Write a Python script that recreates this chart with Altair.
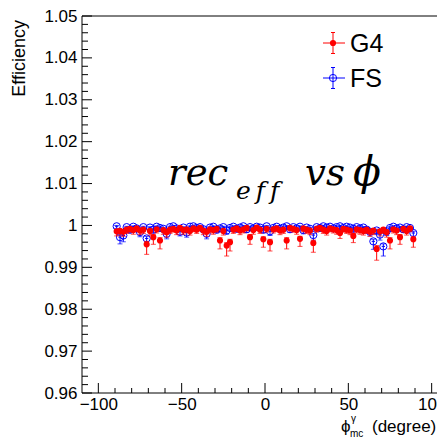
import altair as alt
import pandas as pd

# ---- data ----
# bin centres (2-degree bins from -90 to 90)
x_centers = list(range(-89, 90, 2))

g4_eff = [0.9986, 0.9987, 0.9985, 0.9990, 0.9992, 0.9989, 0.9993, 0.9988, 0.9990, 0.9955,
          0.9987, 0.9972, 0.9991, 0.9964, 0.9989, 0.9984, 0.9990, 0.9992, 0.9988, 0.9994,
          0.9989, 0.9991, 0.9987, 0.9993, 0.9990, 0.9994, 0.9988, 0.9985, 0.9991, 0.9989,
          0.9992, 0.9964, 0.9987, 0.9952, 0.9960, 0.9990, 0.9993, 0.9988, 0.9991, 0.9994,
          0.9972, 0.9989, 0.9995, 0.9990, 0.9967, 0.9992, 0.9960, 0.9991, 0.9993, 0.9988,
          0.9990, 0.9964, 0.9994, 0.9992, 0.9989, 0.9968, 0.9993, 0.9990, 0.9988, 0.9958,
          0.9992, 0.9994, 0.9990, 0.9987, 0.9993, 0.9991, 0.9989, 0.9982, 0.9992, 0.9990,
          0.9988, 0.9975, 0.9991, 0.9989, 0.9987, 0.9990, 0.9985, 0.9988, 0.9944, 0.9986,
          0.9990, 0.9984, 0.9964, 0.9991, 0.9988, 0.9972, 0.9992, 0.9987, 0.9993, 0.9967]
# errors in units of 1e-4
g4_err_lo = [11, 10, 11, 9, 8, 10, 8, 10, 9, 24,
             10, 17, 9, 20, 10, 12, 9, 8, 10, 7,
             10, 9, 10, 8, 9, 7, 10, 11, 9, 10,
             8, 20, 10, 25, 21, 9, 8, 10, 9, 7,
             17, 10, 7, 9, 19, 8, 21, 9, 8, 10,
             9, 20, 7, 8, 10, 18, 8, 9, 10, 22,
             8, 7, 9, 10, 8, 9, 10, 13, 8, 9,
             10, 16, 9, 10, 10, 9, 11, 10, 27, 11,
             9, 12, 20, 9, 10, 17, 8, 10, 8, 19]
g4_err_hi = [4, 4, 4, 4, 3, 4, 3, 4, 4, 7,
             4, 6, 4, 7, 4, 5, 4, 3, 4, 3,
             4, 4, 4, 3, 4, 3, 4, 4, 4, 4,
             3, 7, 4, 7, 7, 4, 3, 4, 4, 3,
             6, 4, 3, 4, 6, 3, 7, 4, 3, 4,
             4, 7, 3, 3, 4, 6, 3, 4, 4, 7,
             3, 3, 4, 4, 3, 4, 4, 5, 3, 4,
             4, 6, 4, 4, 4, 4, 4, 4, 8, 4,
             4, 5, 7, 4, 4, 6, 3, 4, 3, 6]

fs_eff = [0.9998, 0.9972, 0.9976, 0.9996, 0.9990, 0.9997, 0.9993, 0.9984, 0.9996, 0.9969,
          0.9995, 0.9990, 0.9997, 0.9994, 0.9992, 0.9980, 0.9996, 0.9998, 0.9993, 0.9985,
          0.9995, 0.9983, 0.9997, 0.9998, 0.9994, 0.9996, 0.9991, 0.9980, 0.9995, 0.9997,
          0.9990, 0.9993, 0.9996, 0.9988, 0.9994, 0.9997, 0.9992, 0.9995, 0.9998, 0.9991,
          0.9996, 0.9993, 0.9997, 0.9995, 0.9990, 0.9998, 0.9986, 0.9994, 0.9997, 0.9992,
          0.9995, 0.9998, 0.9991, 0.9996, 0.9993, 0.9997, 0.9989, 0.9995, 0.9992, 0.9977,
          0.9996, 0.9994, 0.9998, 0.9995, 0.9997, 0.9993, 0.9996, 0.9998, 0.9994, 0.9997,
          0.9995, 0.9992, 0.9996, 0.9993, 0.9995, 0.9990, 0.9985, 0.9962, 0.9988, 0.9978,
          0.9950, 0.9986, 0.9994, 0.9997, 0.9993, 0.9995, 0.9991, 0.9996, 0.9994, 0.9982]
fs_err_lo = [5, 16, 15, 6, 8, 5, 7, 11, 6, 17,
             6, 8, 5, 7, 7, 12, 6, 5, 7, 10,
             6, 11, 5, 5, 7, 6, 8, 12, 6, 5,
             8, 7, 6, 9, 7, 5, 7, 6, 5, 8,
             6, 7, 5, 6, 8, 5, 10, 7, 5, 7,
             6, 5, 8, 6, 7, 5, 9, 6, 7, 14,
             6, 7, 5, 6, 5, 7, 6, 5, 7, 5,
             6, 7, 6, 7, 6, 8, 10, 19, 9, 13,
             23, 10, 7, 5, 7, 6, 8, 6, 7, 11]
fs_err_hi = [2, 5, 5, 2, 3, 2, 3, 4, 2, 5,
             2, 3, 2, 3, 3, 4, 2, 2, 3, 4,
             2, 4, 2, 2, 3, 2, 3, 4, 2, 2,
             3, 3, 2, 3, 3, 2, 3, 2, 2, 3,
             2, 3, 2, 2, 3, 2, 4, 3, 2, 3,
             2, 2, 3, 2, 3, 2, 3, 2, 3, 4,
             2, 3, 2, 2, 2, 3, 2, 2, 3, 2,
             2, 3, 2, 3, 2, 3, 4, 5, 3, 4,
             6, 4, 3, 2, 3, 2, 3, 2, 3, 4]

# axis ticks
x_major = [-100, -50, 0, 50, 100]
x_minor = [-90, -80, -70, -60, -40, -30, -20, -10, 10, 20, 30, 40, 60, 70, 80, 90]
y_major = [0.96, 0.97, 0.98, 0.99, 1.00, 1.01, 1.02, 1.03, 1.04, 1.05]
y_minor = [0.962, 0.964, 0.966, 0.968, 0.972, 0.974, 0.976, 0.978,
           0.982, 0.984, 0.986, 0.988, 0.992, 0.994, 0.996, 0.998,
           1.002, 1.004, 1.006, 1.008, 1.012, 1.014, 1.016, 1.018,
           1.022, 1.024, 1.026, 1.028, 1.032, 1.034, 1.036, 1.038,
           1.042, 1.044, 1.046, 1.048]

W, H = 355, 377
X_DOMAIN = [-109.8, 103.2]
Y_DOMAIN = [0.96, 1.05]
RED, BLUE = "#ff0000", "#0000ff"
SANS = "Liberation Sans"


def series_frame(eff, lo, hi):
    df = pd.DataFrame({"x": x_centers, "eff": eff,
                       "elo": [v * 1e-4 for v in lo], "ehi": [v * 1e-4 for v in hi]})
    df["lo"] = df["eff"] - df["elo"]
    df["hi"] = (df["eff"] + df["ehi"]).clip(upper=1.0)
    df["xl"] = df["x"] - 1
    df["xr"] = df["x"] + 1
    return df


g4 = series_frame(g4_eff, g4_err_lo, g4_err_hi)
fs = series_frame(fs_eff, fs_err_lo, fs_err_hi)

xs = alt.Scale(domain=X_DOMAIN, nice=False, zero=False)
ys = alt.Scale(domain=Y_DOMAIN, nice=False, zero=False)
XAX = alt.Axis(values=x_major, ticks=False, domain=False, grid=False,
               labelFont=SANS, labelFontSize=17, labelColor="black",
               labelPadding=3, title=None, labelFlush=False)
YAX = alt.Axis(values=y_major, ticks=False, domain=False, grid=False,
               labelFont=SANS, labelFontSize=17, labelColor="black",
               labelPadding=5, title=None, labelFlush=False,
               labelExpr="format(datum.value, '.2~f')")


def X(f):
    return alt.X(f, scale=xs, axis=XAX)


def Y(f):
    return alt.Y(f, scale=ys, axis=YAX)


def series_layers(df, color, filled):
    base = alt.Chart(df)
    vbar = base.mark_rule(color=color, strokeWidth=1).encode(x=X("x:Q"), y=Y("lo:Q"), y2="hi:Q")
    hbar = base.mark_rule(color=color, strokeWidth=1).encode(x=X("xl:Q"), x2="xr:Q", y=Y("eff:Q"))
    cap_lo = base.mark_tick(color=color, orient="horizontal", size=5, thickness=1).encode(
        x=X("x:Q"), y=Y("lo:Q"))
    cap_hi = base.mark_tick(color=color, orient="horizontal", size=5, thickness=1).encode(
        x=X("x:Q"), y=Y("hi:Q"))
    if filled:
        pts = base.mark_circle(color=color, size=38, opacity=1)
    else:
        pts = base.mark_point(color=color, shape="circle", filled=False, size=52,
                              strokeWidth=1, opacity=1)
    pts = pts.encode(x=X("x:Q"), y=Y("eff:Q"))
    return [vbar, hbar, cap_lo, cap_hi, pts]


def yticks(vals, length):
    return alt.Chart(pd.DataFrame({"v": vals})).mark_rule(color="black", strokeWidth=1).encode(
        y=Y("v:Q"), x=alt.value(0), x2=alt.value(length))


def xticks(vals, length):
    return alt.Chart(pd.DataFrame({"v": vals})).mark_rule(color="black", strokeWidth=1).encode(
        x=X("v:Q"), y=alt.value(H), y2=alt.value(H - length))


one = pd.DataFrame({"a": [0]})


def txt(s, x, y, **kw):
    return alt.Chart(one).mark_text(**kw).encode(x=alt.value(x), y=alt.value(y), text=alt.value(s))


def prule(x, y, x2=None, y2=None, color="black"):
    enc = {"x": alt.value(x), "y": alt.value(y)}
    if x2 is not None:
        enc["x2"] = alt.value(x2)
    if y2 is not None:
        enc["y2"] = alt.value(y2)
    return alt.Chart(one).mark_rule(color=color, strokeWidth=1).encode(**enc)


def legend_item(cy, color, filled, label):
    items = [prule(241, cy, x2=263, color=color),
             prule(251, cy - 10.5, y2=cy + 10.5, color=color),
             prule(249, cy - 10.5, x2=253, color=color),
             prule(249, cy + 10.5, x2=253, color=color)]
    if filled:
        m = alt.Chart(one).mark_circle(color=color, size=38, opacity=1)
    else:
        m = alt.Chart(one).mark_point(color=color, shape="circle", filled=False, size=52,
                                      strokeWidth=1, opacity=1)
    items.append(m.encode(x=alt.value(251), y=alt.value(cy)))
    items.append(txt(label, 268, cy + 1, font=SANS, fontSize=25, align="left",
                     baseline="middle", color="black"))
    return items


serif = dict(font="DejaVu Serif", fontStyle="italic", color="black", align="left",
             baseline="alphabetic")
sans = dict(font=SANS, color="black", align="left", baseline="alphabetic")

layers = [prule(0, 0, y2=H), prule(0, 0, x2=W + 10), prule(0, H, x2=W + 10),
          yticks(y_major, 10), yticks(y_minor, 6),
          xticks(x_major, 10), xticks(x_minor, 5)]
layers += series_layers(fs, BLUE, False)
layers += series_layers(g4, RED, True)
layers += legend_item(27, RED, True, "G4")
layers += legend_item(62, BLUE, False, "FS")
layers += [
    txt("rec", 86, 169, fontSize=37, **serif),
    txt("e\u2009f\u2009f", 154, 183, fontSize=25, **serif),
    txt("vs", 223, 169, fontSize=37, **serif),
    txt("\u03d5", 271, 169, fontSize=41, **serif),
    txt("Efficiency", -62, 4, font=SANS, fontSize=18, angle=270, align="right",
        baseline="middle", color="black"),
    txt("\u03d5", 259, 416, fontSize=17, **sans),
    txt("\u03b3", 269, 406, fontSize=10, **sans),
    txt("mc", 268, 421, fontSize=10, **sans),
    txt("(degree)", 290, 416, fontSize=17, **sans),
]

chart = alt.layer(*layers).properties(
    width=W, height=H,
    autosize=alt.AutoSizeParams(type="none"),
    padding={"left": 74, "top": 8, "right": 0, "bottom": 47},
).configure_view(stroke=None)

chart.save("out.html", embed_options={"renderer": "svg", "actions": False})
